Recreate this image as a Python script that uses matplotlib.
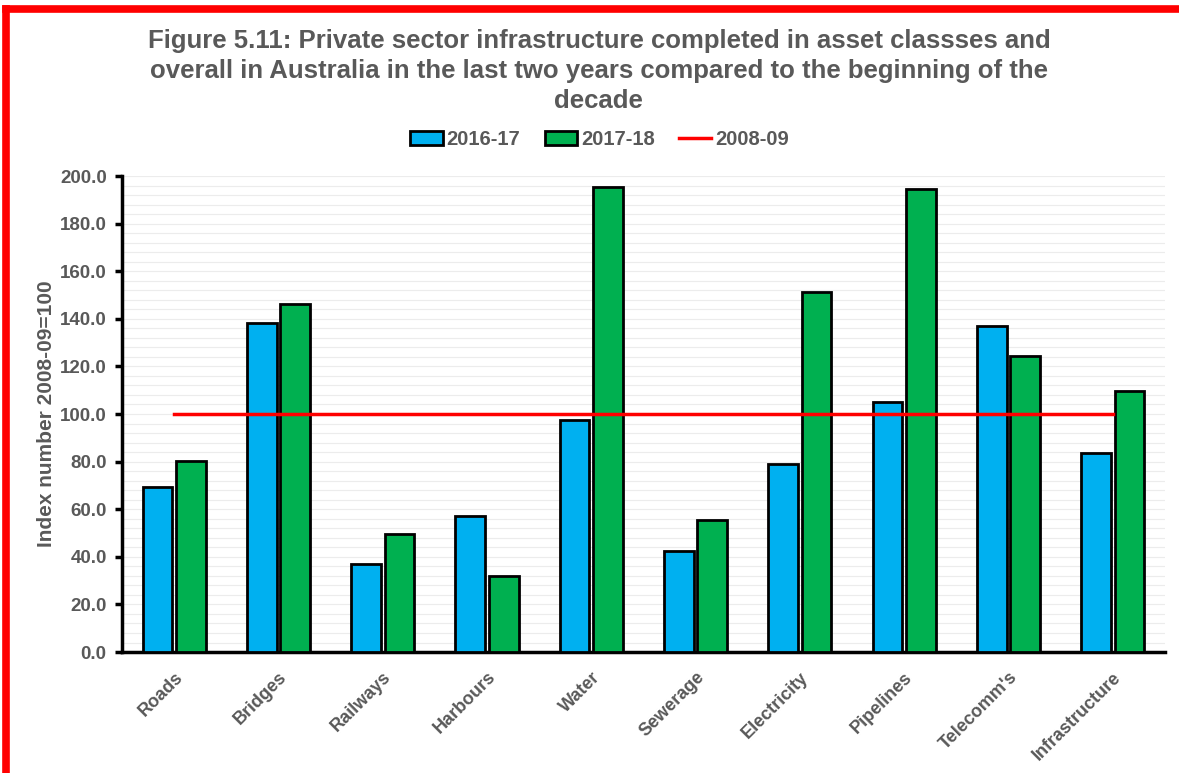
import matplotlib.pyplot as plt
import numpy as np
from matplotlib.lines import Line2D

categories = ["Roads", "Bridges", "Railways", "Harbours", "Water", "Sewerage",
              "Electricity", "Pipelines", "Telecomm's", "Infrastructure"]
y2016_17 = [69.3, 138.2, 37.0, 57.1, 97.5, 42.4, 79.0, 105.0, 137.0, 83.6]
y2017_18 = [80.3, 146.2, 49.6, 32.0, 195.4, 55.5, 151.3, 194.5, 124.4, 109.7]
baseline = [100.0] * len(categories)
yticks = np.arange(0, 201, 20)

plt.rcParams['font.family'] = ['Liberation Sans', 'DejaVu Sans']
grey = '#595959'

fig = plt.figure(figsize=(11.79, 7.73), dpi=100)
ax = fig.add_axes([0.1035, 0.1565, 0.8845, 0.6158])

x = np.arange(len(categories))
w = 0.285
b1 = ax.bar(x - 0.16, y2016_17, w, color='#00b0f0', edgecolor='black', linewidth=2, label='2016-17', zorder=3)
b2 = ax.bar(x + 0.16, y2017_18, w, color='#00b050', edgecolor='black', linewidth=2, label='2017-18', zorder=3)
l1, = ax.plot(x, baseline, color='#ff0000', linewidth=2.5, label='2008-09', zorder=4)

ax.set_xlim(-0.5, len(categories) - 0.5)
ax.set_ylim(0, 200)
ax.set_yticks(yticks)
ax.set_yticklabels([f"{v:.1f}" for v in yticks], fontsize=13.5, fontweight='bold', color=grey)
ax.set_yticks(np.arange(0, 201, 4), minor=True)
ax.tick_params(axis='y', which='minor', length=0)
ax.tick_params(axis='y', which='major', length=5, width=2.5, color='black', direction='out', pad=6)
ax.grid(True, axis='y', which='both', color='#ececec', linewidth=0.8, zorder=0)

ax.set_xticks(x)
ax.set_xticklabels(categories, rotation=45, ha='right', rotation_mode='anchor',
                   fontsize=13, fontweight='bold', color=grey)
ax.tick_params(axis='x', length=0, pad=12)

for s in ['top', 'right']:
    ax.spines[s].set_visible(False)
for s in ['left', 'bottom']:
    ax.spines[s].set_linewidth(2.5)
    ax.spines[s].set_color('black')

ax.set_ylabel("Index number 2008-09=100", fontsize=15, fontweight='bold', color=grey, labelpad=3)

fig.text(0.508, 0.962, "Figure 5.11: Private sector infrastructure completed in asset classses and\n"
         "overall in Australia in the last two years compared to the beginning of the\ndecade",
         ha='center', va='top', fontsize=18.5, fontweight='bold', color=grey, linespacing=1.3)

leg = ax.legend([b1, b2, l1], ['2016-17', '2017-18', '2008-09'],
                loc='center', bbox_to_anchor=(0.458, 1.077), ncol=3, frameon=False,
                fontsize=14.5, handlelength=1.6, handletextpad=0.2, columnspacing=1.2)
for t in leg.get_texts():
    t.set_fontweight('bold')
    t.set_color(grey)

# red frame from the source slide
fig.add_artist(Line2D([0.0055, 0.0055], [0.0, 0.988], color='#ff0000', linewidth=5.5, transform=fig.transFigure))
fig.add_artist(Line2D([0.0055, 1.0], [0.988, 0.988], color='#ff0000', linewidth=5.5, transform=fig.transFigure))

fig.savefig('out.png', dpi=100)
